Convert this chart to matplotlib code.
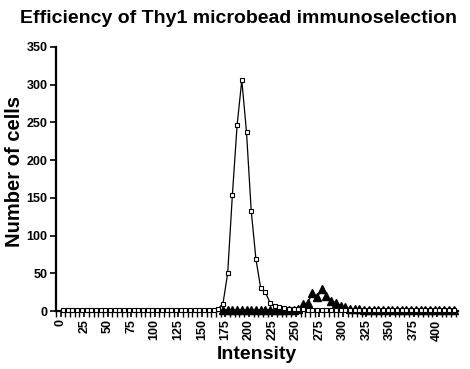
import numpy as np
import matplotlib
matplotlib.use('Agg')
import matplotlib.pyplot as plt
from matplotlib.ticker import MultipleLocator

plt.rcParams['font.family'] = ['Liberation Sans', 'DejaVu Sans']
plt.rcParams['font.weight'] = 'bold'

# bin centres (intensity), one every 5 units
intensity = np.arange(2.5, 420, 5)

# open squares series
squares = [1] * 33 + [3, 10, 50, 154, 246, 306, 237, 133, 69, 31, 25, 11, 7, 5, 4,
                      3, 3, 3, 3, 2, 2, 2]
squares += [1.5] * (len(intensity) - len(squares))

# filled triangles series (starts near 170)
triangles = [np.nan] * 34 + [1.5] * 16 + [3, 9, 11, 24, 18, 29, 20, 13, 11, 7, 5, 3, 3, 2.5, 2]
triangles += [1.5] * (len(intensity) - len(triangles))

fig = plt.figure(figsize=(4.7, 3.69), dpi=100)
ax = fig.add_axes([0.119, 0.157, 0.855, 0.716])

ax.plot(intensity, squares, color='black', lw=0.9, marker='s', ms=3.3,
        mfc='white', mec='black', mew=0.8, clip_on=False, zorder=3)
ax.plot(intensity, triangles, color='black', lw=0.9, marker='^', ms=5.5,
        mfc='black', mec='black', clip_on=False, zorder=2)

ax.set_xlim(-5, 422)
ax.set_ylim(0, 350)
ax.xaxis.set_major_locator(MultipleLocator(25))
ax.xaxis.set_minor_locator(MultipleLocator(5))
ax.yaxis.set_major_locator(MultipleLocator(50))

for s in ['top', 'right']:
    ax.spines[s].set_visible(False)
for s in ['left', 'bottom']:
    ax.spines[s].set_linewidth(1.6)

ax.tick_params(axis='both', which='major', length=4, width=1.2, labelsize=9, pad=2)
ax.tick_params(axis='x', which='minor', length=4, width=1.0)
plt.setp(ax.get_xticklabels(), rotation=90, fontweight='bold')
plt.setp(ax.get_yticklabels(), fontweight='bold')

ax.set_xlabel('Intensity', fontsize=14, fontweight='bold', labelpad=4)
ax.set_ylabel('Number of cells', fontsize=14.5, fontweight='bold')
ax.yaxis.set_label_coords(-0.08, 0.53)
fig.text(0.508, 0.95, 'Efficiency of Thy1 microbead immunoselection',
         ha='center', va='center', fontsize=14, fontweight='bold')

fig.savefig('out.png', dpi=100)
